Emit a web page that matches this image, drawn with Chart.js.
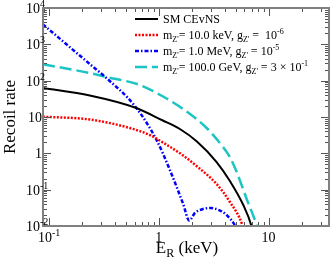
<!DOCTYPE html>
<html lang="en">
  <head>
    <meta charset="UTF-8" />
    <title>Recoil rate</title>
    <script src="https://cdn.jsdelivr.net/npm/chart.js"></script>
    <style>
      body { margin: 0; background: #fff; }
    </style>
  </head>
  <body>
    <div style="width: 332px; height: 267px">
      <canvas id="rateChart"></canvas>
    </div>
    <script>
      // values (E in keV, rate)
      const smE = [0.0877, 0.2346, 0.604, 1.088, 1.554, 2.222, 3.36, 4.44, 5.88, 6.98, 7.36];
      const smR = [62.8, 39.1, 18.2, 8.0, 4.67, 2.12, 0.577, 0.173, 0.0378, 0.01, 0.0047];

      const lightE = [0.0877, 0.2346, 0.544, 0.828, 1.088, 1.666, 2.208, 3.36, 4.44, 5.8, 6.22];
      const lightR = [10.2, 8.53, 4.97, 3.19, 1.99, 0.871, 0.448, 0.143, 0.0457, 0.01, 0.0041];

      const midE = [0.0877, 0.2346, 0.333, 0.604, 0.953, 1.26, 1.666, 1.89, 2.13, 2.52, 2.98, 3.53, 4.15, 5.04, 5.48];
      const midR = [3560, 288, 118, 20.1, 2.33, 0.348, 0.0403, 0.0142, 0.0228, 0.0293, 0.0313, 0.0275, 0.02, 0.0095, 0.0057];

      const heavyE = [0.088, 0.2346, 0.333, 0.671, 1.094, 1.666, 2.208, 2.724, 3.6, 4.44, 5.12, 6.31, 7.79, 8.35];
      const heavyR = [282, 162, 126, 76, 36.6, 16.6, 8.8, 4.98, 1.92, 0.79, 0.306, 0.0553, 0.01, 0.0041];

      const yDecades = [-2, -1, 0, 1, 2, 3, 4];
      const xDecades = [-1, 0, 1];

      const pts = (xs, ys) => xs.map((x, i) => ({ x: x, y: ys[i] }));

      const SERIF = "'Liberation Serif', 'DejaVu Serif', serif";

      // legend rows as [text, kind] pieces
      const legendRows = [
        [["SM CEvNS", ""]],
        [["m", ""], ["Z'", "sub"], ["= 10.0 keV, g", ""], ["Z'", "sub"], [" =  10", ""], ["-6", "sup"]],
        [["m", ""], ["Z'", "sub"], ["= 1.0 MeV, g", ""], ["Z'", "sub"], [" = 10", ""], ["-5", "sup"]],
        [["m", ""], ["Z'", "sub"], ["= 100.0 GeV, g", ""], ["Z'", "sub"], [" = 3 \u00d7 10", ""], ["-1", "sup"]],
      ];

      // draw a run of text pieces with sub/superscripts, returns width
      function rich(ctx, pieces, x, y, size, measureOnly) {
        let cx = x;
        for (const [t, kind] of pieces) {
          const s = kind ? Math.round(size * 0.7) : size;
          ctx.font = s + "px " + SERIF;
          const dy = kind === "sup" ? -size * 0.42 : kind === "sub" ? size * 0.25 : 0;
          if (!measureOnly) ctx.fillText(t, cx, y + dy);
          cx += ctx.measureText(t).width;
        }
        return cx - x;
      }

      const decor = {
        id: "decor",
        afterDraw(chart) {
          const { ctx, chartArea: a, scales } = chart;
          const xs = scales.x, ys = scales.y;
          ctx.save();
          ctx.textAlign = "left";
          ctx.textBaseline = "alphabetic";
          ctx.fillStyle = "#000";

          // ticks, inward on all four sides
          ctx.strokeStyle = "#555";
          ctx.lineWidth = 1;
          ctx.beginPath();
          for (let d = -2; d <= 1; d++) {
            for (let m = 1; m <= 9; m++) {
              const v = m * Math.pow(10, d);
              if (v < xs.min || v > xs.max) continue;
              const px = Math.round(xs.getPixelForValue(v)) + 0.5;
              const len = m === 1 ? 8 : 4;
              ctx.moveTo(px, a.bottom); ctx.lineTo(px, a.bottom - len);
              ctx.moveTo(px, a.top); ctx.lineTo(px, a.top + len);
            }
          }
          for (let d = -2; d <= 3; d++) {
            for (let m = 1; m <= 9; m++) {
              const v = m * Math.pow(10, d);
              const py = Math.round(ys.getPixelForValue(v)) + 0.5;
              const len = m === 1 ? 8 : 4;
              ctx.moveTo(a.left, py); ctx.lineTo(a.left + len, py);
              ctx.moveTo(a.right, py); ctx.lineTo(a.right - len, py);
            }
          }
          ctx.stroke();

          // frame
          ctx.strokeStyle = "#808080";
          ctx.lineWidth = 2;
          ctx.strokeRect(a.left, a.top, a.right - a.left, a.bottom - a.top);

          // y tick labels
          for (const d of yDecades) {
            const py = ys.getPixelForValue(Math.pow(10, d));
            if (d === 0 || d === 1) {
              ctx.font = "14px " + SERIF;
              ctx.textAlign = "right";
              ctx.fillText(d === 0 ? "1" : "10", 42, py + 5);
              ctx.textAlign = "left";
            } else {
              const pieces = [["10", ""], [String(d), "sup"]];
              ctx.font = "14px " + SERIF;
              const w0 = ctx.measureText("10").width;
              rich(ctx, pieces, 40 - w0, py + 5, 14);
            }
          }

          // x tick labels
          for (const d of xDecades) {
            const px = xs.getPixelForValue(Math.pow(10, d));
            const pieces = d === 0 ? [["1", ""]] : d === 1 ? [["10", ""]] : [["10", ""], [String(d), "sup"]];
            const w = rich(ctx, pieces, 0, 0, 14, true);
            rich(ctx, pieces, px - w / 2, 242, 14);
          }

          // axis titles
          const xt = [["E", ""], ["R", "sub"], [" (keV)", ""]];
          const wx = rich(ctx, xt, 0, 0, 17, true);
          rich(ctx, xt, (a.left + a.right) / 2 - wx / 2 + 1, 253, 17);

          ctx.save();
          ctx.translate(15, (a.top + a.bottom) / 2);
          ctx.rotate(-Math.PI / 2);
          ctx.font = "17px " + SERIF;
          ctx.textAlign = "center";
          ctx.fillText("Recoil rate", 0, 0);
          ctx.restore();

          // legend
          const rowY = [19, 35, 51, 67];
          chart.data.datasets.forEach((ds, i) => {
            const y = rowY[i];
            ctx.strokeStyle = ds.borderColor;
            ctx.lineWidth = ds.borderWidth;
            ctx.setLineDash(ds.borderDash || []);
            ctx.beginPath();
            ctx.moveTo(135, y);
            ctx.lineTo(158, y);
            ctx.stroke();
            ctx.setLineDash([]);
            ctx.fillStyle = "#000";
            rich(ctx, legendRows[i], 163, y + 4, 12);
          });
          ctx.restore();
        },
      };

      const common = { pointRadius: 0, fill: false, cubicInterpolationMode: "monotone", clip: 0 };

      new Chart(document.getElementById("rateChart"), {
        type: "line",
        data: {
          datasets: [
            { ...common, data: pts(smE, smR), borderColor: "#000000", borderWidth: 2 },
            { ...common, data: pts(lightE, lightR), borderColor: "#ff0000", borderWidth: 2.5, borderDash: [2, 1.5] },
            { ...common, data: pts(midE, midR), borderColor: "#0000ff", borderWidth: 2.5, borderDash: [4, 2, 1.5, 2] },
            { ...common, data: pts(heavyE, heavyR), borderColor: "#1cc4c4", borderWidth: 2.5, borderDash: [12, 5] },
          ],
        },
        options: {
          responsive: true,
          maintainAspectRatio: false,
          animation: false,
          layout: { padding: { left: 43, right: 3, top: 8, bottom: 41 } },
          plugins: { legend: { display: false }, tooltip: { enabled: false } },
          scales: {
            x: { type: "logarithmic", min: 0.088, max: 35.5, display: false },
            y: { type: "logarithmic", min: 0.01, max: 10000, display: false },
          },
        },
        plugins: [decor],
      });
    </script>
  </body>
</html>
